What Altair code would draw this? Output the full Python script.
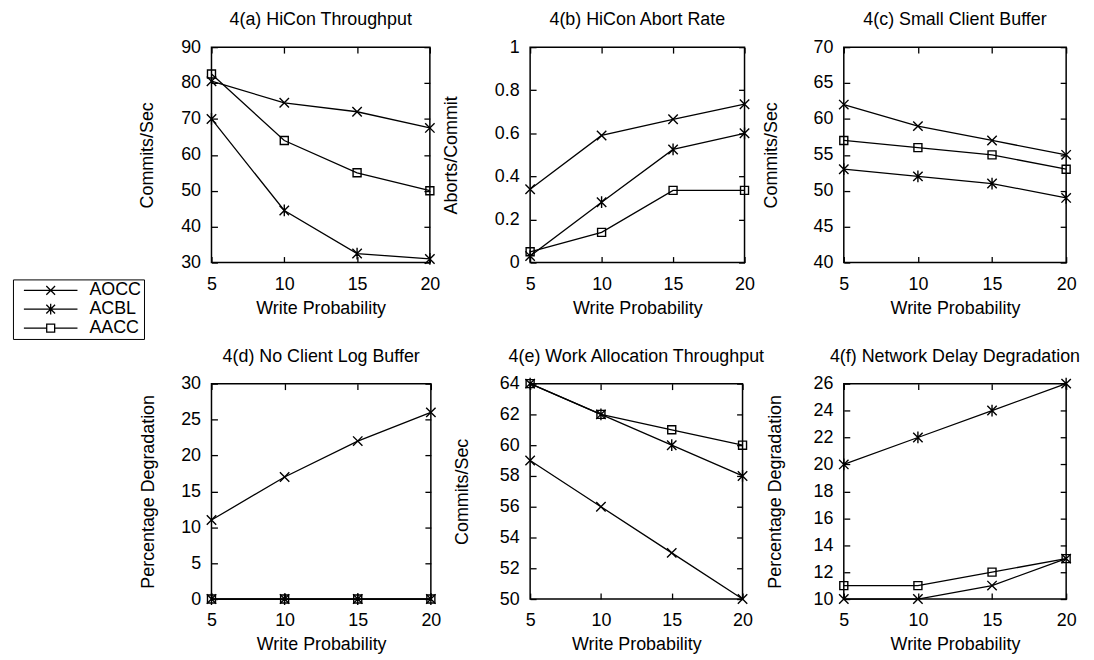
import altair as alt
import pandas as pd

FONT = "Liberation Sans"
X_VALUES = [5, 10, 15, 20]
SERIES = ["AOCC", "ACBL", "AACC"]

# 4(a) HiCon Throughput
a_aocc = [80.5, 74.5, 72, 67.5]
a_acbl = [70, 44.5, 32.5, 31]
a_aacc = [82.5, 64, 55, 50]
# 4(b) HiCon Abort Rate
b_aocc = [0.34, 0.59, 0.665, 0.735]
b_acbl = [0.03, 0.28, 0.525, 0.6]
b_aacc = [0.05, 0.14, 0.335, 0.335]
# 4(c) Small Client Buffer
c_aocc = [62, 59, 57, 55]
c_acbl = [53, 52, 51, 49]
c_aacc = [57, 56, 55, 53]
# 4(d) No Client Log Buffer
d_aocc = [11, 17, 22, 26]
d_acbl = [0, 0, 0, 0]
d_aacc = [0, 0, 0, 0]
# 4(e) Work Allocation Throughput
e_aocc = [59, 56, 53, 50]
e_acbl = [64, 62, 60, 58]
e_aacc = [64, 62, 61, 60]
# 4(f) Network Delay Degradation
f_aocc = [10, 10, 11, 13]
f_acbl = [20, 22, 24, 26]
f_aacc = [11, 11, 12, 13]

a_ticks = [30, 40, 50, 60, 70, 80, 90]
b_ticks = [0, 0.2, 0.4, 0.6, 0.8, 1]
c_ticks = [40, 45, 50, 55, 60, 65, 70]
d_ticks = [0, 5, 10, 15, 20, 25, 30]
e_ticks = [50, 52, 54, 56, 58, 60, 62, 64]
f_ticks = [10, 12, 14, 16, 18, 20, 22, 24, 26]

# marker glyphs (x, asterisk, open square)
MARKS = [
    "M-1,-1L1,1M-1,1L1,-1",
    "M-1,-1L1,1M-1,1L1,-1M0,-1.25L0,1.25",
    "M-0.85,-0.85L0.85,-0.85L0.85,0.85L-0.85,0.85Z",
]
# legend glyphs: line segment through the marker
LEG = [
    "M-6.75,0L6.75,0M-1.1,-1.1L1.1,1.1M-1.1,1.1L1.1,-1.1",
    "M-6.75,0L6.75,0M-1.1,-1.1L1.1,1.1M-1.1,1.1L1.1,-1.1M0,-1.35L0,1.35",
    "M-6.75,0L-1,0M1,0L6.75,0M-1,-1L1,-1L1,1L-1,1Z",
]

TK = 6


def make_df(vals):
    rows = []
    for s, ys in zip(SERIES, vals):
        for x, y in zip(X_VALUES, ys):
            rows.append({"wp": x, "v": y, "s": s})
    return pd.DataFrame(rows)


def panel(title, ytitle, domain, ticks, vals, w, h, tpad, legend=False):
    df = make_df(vals)
    xs = alt.Scale(domain=[5, 20], nice=False, zero=False)
    ys = alt.Scale(domain=domain, nice=False, zero=False)
    base = alt.Chart(df)
    xmain = alt.X("wp:Q", scale=xs, axis=alt.Axis(
        values=X_VALUES, orient="bottom", offset=-TK, tickSize=TK, domain=False,
        labelPadding=13, labelFlush=False, title="Write Probability", titlePadding=6,
        grid=False))
    ymain = alt.Y("v:Q", scale=ys, axis=alt.Axis(
        values=ticks, orient="left", offset=-TK, tickSize=TK, domain=False,
        labelPadding=11, labelFlush=False, format=".2~f", title=ytitle,
        titlePadding=tpad, grid=False))
    lines = base.mark_line(color="black", strokeWidth=1.3).encode(
        x=xmain, y=ymain, detail="s:N")
    pts = base.mark_point(filled=False, color="black", strokeWidth=1.4, size=90,
                          opacity=1).encode(
        x=alt.X("wp:Q", scale=xs, axis=None),
        y=alt.Y("v:Q", scale=ys, axis=None),
        shape=alt.Shape("s:N", scale=alt.Scale(domain=SERIES, range=MARKS), legend=None),
    )
    mirror = base.mark_point(filled=False).transform_filter("datum.wp < 0").encode(
        x=alt.X("wp:Q", scale=xs, axis=alt.Axis(
            values=X_VALUES, orient="top", offset=-TK, tickSize=TK, domain=False,
            labels=False, title=None, grid=False)),
        y=alt.Y("v:Q", scale=ys, axis=alt.Axis(
            values=ticks, orient="right", offset=-TK, tickSize=TK, domain=False,
            labels=False, title=None, grid=False)),
    )
    layers = [lines, pts, mirror]
    if legend:
        leg = base.mark_point(filled=False, color="black", strokeWidth=1.3).transform_filter(
            "datum.wp < 0").encode(
            shape=alt.Shape("s:N", scale=alt.Scale(domain=SERIES, range=LEG), legend=alt.Legend(
                orient="none", legendX=-200, legendY=234, title=None,
                symbolSize=64, symbolStrokeWidth=1.3, symbolStrokeColor="black",
                symbolOffset=27, labelOffset=30, padding=2, rowPadding=1,
                strokeColor="black", labelFont=FONT, labelFontSize=18,
                labelColor="black", symbolOpacity=1)),
        )
        layers.append(leg)
    ch = alt.layer(*layers).resolve_axis(x="independent", y="independent")
    ch = ch.resolve_scale(shape="independent")
    return ch.properties(
        width=w, height=h,
        title=alt.TitleParams(title, frame="group", anchor="middle", offset=9),
    )


H = 217
pa = panel("4(a) HiCon Throughput", "Commits/Sec", [30, 90], a_ticks,
           (a_aocc, a_acbl, a_aacc), 220, H, 24, legend=True)
pb = panel("4(b) HiCon Abort Rate", "Aborts/Commit", [0, 1], b_ticks,
           (b_aocc, b_acbl, b_aacc), 216, H, 34)
pc = panel("4(c) Small Client Buffer", "Commits/Sec", [40, 70], c_ticks,
           (c_aocc, c_acbl, c_aacc), 224, H, 33)
pd_ = panel("4(d) No Client Log Buffer", "Percentage Degradation", [0, 30], d_ticks,
            (d_aocc, d_acbl, d_aacc), 221, H, 23)
pe = panel("4(e) Work Allocation Throughput", "Commits/Sec", [50, 64], e_ticks,
           (e_aocc, e_acbl, e_aacc), 214, H, 28)
pf = panel("4(f) Network Delay Degradation", "Percentage Degradation", [10, 26], f_ticks,
           (f_aocc, f_acbl, f_aacc), 224, H, 29)

chart = alt.concat(
    pa, pb, pc, pd_, pe, pf, columns=3,
    spacing={"row": 122, "column": 100}, bounds="flush", align="none",
).resolve_scale(
    shape="independent", x="independent", y="independent"
).properties(
    padding={"left": 3, "top": 0, "right": 5, "bottom": 5},
).configure_view(
    stroke="black", strokeWidth=1.5
).configure_axis(
    labelFont=FONT, labelFontSize=18, labelColor="black",
    titleFont=FONT, titleFontSize=18, titleFontWeight="normal", titleColor="black",
    tickColor="black", tickWidth=1.3,
).configure_title(
    font=FONT, fontSize=18, fontWeight="normal", color="black",
).configure_legend(
    labelFont=FONT, labelFontSize=18, labelColor="black",
)

chart.save("out.html", embed_options={"renderer": "svg", "actions": False})
